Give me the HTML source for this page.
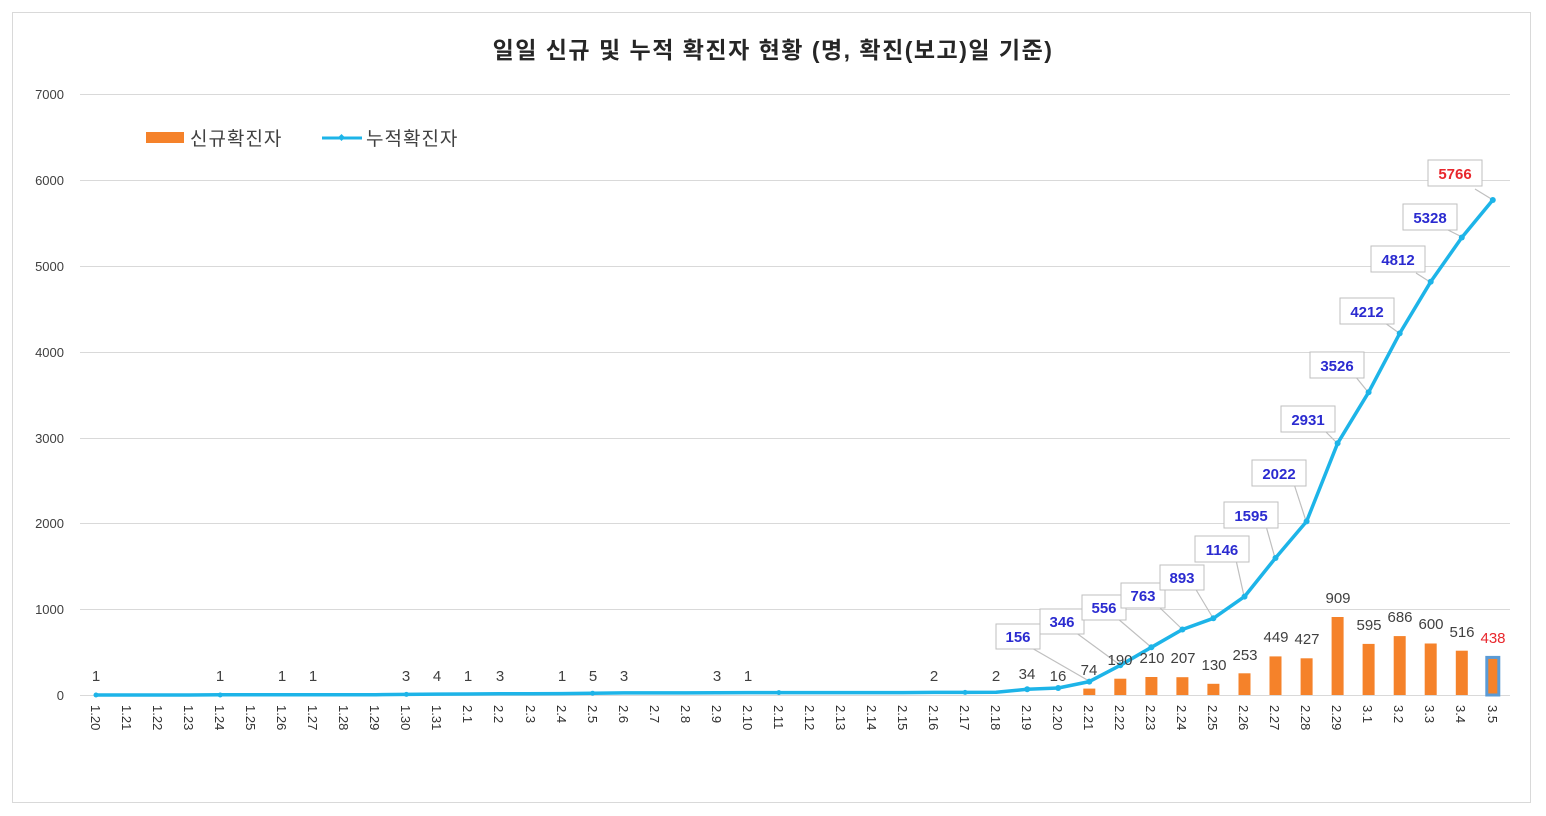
<!DOCTYPE html>
<html><head><meta charset="utf-8"><style>
body{margin:0;background:#fff}
svg{display:block;font-family:"Liberation Sans","Noto Sans CJK KR",sans-serif}
.ax{font-size:13px;fill:#404040}
.xl{font-size:13px;fill:#303030}
.sl{font-size:15px;fill:#404040;text-anchor:middle}
.bl{font-size:15px;font-weight:bold;fill:#2b2bd0;text-anchor:middle}
.bx{fill:#fff;stroke:#bfbfbf;stroke-width:1}
.co{stroke:#bfbfbf;stroke-width:1.2;fill:none}
</style></head><body>
<svg width="1546" height="816" viewBox="0 0 1546 816">
<rect x="12.5" y="12.5" width="1518" height="790" fill="#fff" stroke="#d9d9d9"/>
<text x="773" y="58" text-anchor="middle" font-size="23" font-weight="bold" fill="#262626" letter-spacing="1.5">일일 신규 및 누적 확진자 현황 (명, 확진(보고)일 기준)</text>
<g stroke="#d9d9d9" stroke-width="1">
<line x1="80" x2="1510" y1="94.5" y2="94.5"/><line x1="80" x2="1510" y1="180.5" y2="180.5"/><line x1="80" x2="1510" y1="266.5" y2="266.5"/><line x1="80" x2="1510" y1="352.5" y2="352.5"/><line x1="80" x2="1510" y1="438.5" y2="438.5"/><line x1="80" x2="1510" y1="523.5" y2="523.5"/><line x1="80" x2="1510" y1="609.5" y2="609.5"/><line x1="80" x2="1510" y1="695.5" y2="695.5"/>
</g>
<g class="ax" text-anchor="end">
<text x="64" y="99">7000</text><text x="64" y="185">6000</text><text x="64" y="271">5000</text><text x="64" y="357">4000</text><text x="64" y="443">3000</text><text x="64" y="528">2000</text><text x="64" y="614">1000</text><text x="64" y="700">0</text>
</g>
<rect x="146" y="132" width="38" height="11" fill="#f5822a"/>
<text x="190" y="145" font-size="19" fill="#404040" letter-spacing="1">신규확진자</text>
<line x1="322" x2="362" y1="138" y2="138" stroke="#1db4e8" stroke-width="3"/>
<rect x="339" y="135" width="5" height="5" fill="#1db4e8" transform="rotate(45 341.5 137.5)"/>
<text x="366" y="145" font-size="19" fill="#404040" letter-spacing="1">누적확진자</text>
<g fill="#f5822a">
<rect x="1083.3" y="688.6" width="12" height="6.4"/>
<rect x="1114.3" y="678.7" width="12" height="16.3"/>
<rect x="1145.4" y="677" width="12" height="18"/>
<rect x="1176.4" y="677.2" width="12" height="17.8"/>
<rect x="1207.4" y="683.8" width="12" height="11.2"/>
<rect x="1238.5" y="673.3" width="12" height="21.7"/>
<rect x="1269.5" y="656.4" width="12" height="38.6"/>
<rect x="1300.6" y="658.3" width="12" height="36.7"/>
<rect x="1331.6" y="617" width="12" height="78"/>
<rect x="1362.6" y="643.9" width="12" height="51.1"/>
<rect x="1393.7" y="636.1" width="12" height="58.9"/>
<rect x="1424.7" y="643.5" width="12" height="51.5"/>
<rect x="1455.8" y="650.7" width="12" height="44.3"/>
<rect x="1486.8" y="657.4" width="12" height="37.6" stroke="#5b9bd5" stroke-width="3"/>
</g>
<g class="co">
<line x1="1030" y1="647" x2="1089" y2="681"/><line x1="1075" y1="632" x2="1120" y2="665"/><line x1="1117" y1="618" x2="1151" y2="647"/><line x1="1158" y1="606" x2="1182" y2="629"/><line x1="1195" y1="588" x2="1213" y2="618"/><line x1="1236" y1="560" x2="1244" y2="596"/><line x1="1266" y1="526" x2="1275" y2="558"/><line x1="1294" y1="484" x2="1306" y2="521"/><line x1="1324" y1="430" x2="1337" y2="443"/><line x1="1355" y1="376" x2="1368" y2="392"/><line x1="1385" y1="323" x2="1399" y2="333"/><line x1="1416" y1="273" x2="1430" y2="282"/><line x1="1448" y1="230" x2="1462" y2="237"/><line x1="1475" y1="189" x2="1493" y2="200"/>
</g>
<polyline fill="none" stroke="#1db4e8" stroke-width="3.5" stroke-linejoin="round" points="96,695 127,695 158.1,695 189.1,695 220.2,694.8 251.2,694.8 282.2,694.7 313.3,694.7 344.3,694.7 375.4,694.7 406.4,694.4 437.4,694.1 468.5,694 499.5,693.7 530.6,693.7 561.6,693.6 592.6,693.2 623.7,692.9 654.7,692.9 685.8,692.9 716.8,692.7 747.8,692.6 778.9,692.6 809.9,692.6 841,692.6 872,692.6 903,692.6 934.1,692.4 965.1,692.4 996.2,692.3 1027.2,689.3 1058.2,688 1089.3,681.6 1120.3,665.3 1151.4,647.3 1182.4,629.5 1213.4,618.3 1244.5,596.6 1275.5,558 1306.6,521.4 1337.6,443.3 1368.6,392.3 1399.7,333.4 1430.7,281.8 1461.8,237.5 1492.8,200"/>
<g fill="#1db4e8">
<circle cx="1027.2" cy="689.3" r="3"/><circle cx="1058.2" cy="688" r="3"/><circle cx="1089.3" cy="681.6" r="3"/><circle cx="1120.3" cy="665.3" r="3"/><circle cx="1151.4" cy="647.3" r="3"/><circle cx="1182.4" cy="629.5" r="3"/><circle cx="1213.4" cy="618.3" r="3"/><circle cx="1244.5" cy="596.6" r="3"/><circle cx="1275.5" cy="558" r="3"/><circle cx="1306.6" cy="521.4" r="3"/><circle cx="1337.6" cy="443.3" r="3"/><circle cx="1368.6" cy="392.3" r="3"/><circle cx="1399.7" cy="333.4" r="3"/><circle cx="1430.7" cy="281.8" r="3"/><circle cx="1461.8" cy="237.5" r="3"/><circle cx="1492.8" cy="200" r="3"/>
<circle cx="96" cy="695" r="2.5"/><circle cx="220.2" cy="695" r="2.5"/><circle cx="406.4" cy="694.4" r="2.5"/><circle cx="592.6" cy="693.2" r="2.5"/><circle cx="778.9" cy="692.6" r="2.5"/><circle cx="965.1" cy="692.4" r="2.5"/>
</g>
<g>
<rect class="bx" x="996" y="624" width="44" height="25"/><text class="bl" x="1018" y="642">156</text>
<rect class="bx" x="1040" y="609" width="44" height="25"/><text class="bl" x="1062" y="627">346</text>
<rect class="bx" x="1082" y="595" width="44" height="25"/><text class="bl" x="1104" y="613">556</text>
<rect class="bx" x="1121" y="583" width="44" height="25"/><text class="bl" x="1143" y="601">763</text>
<rect class="bx" x="1160" y="565" width="44" height="25"/><text class="bl" x="1182" y="583">893</text>
<rect class="bx" x="1195" y="536" width="54" height="26"/><text class="bl" x="1222" y="555">1146</text>
<rect class="bx" x="1224" y="502" width="54" height="26"/><text class="bl" x="1251" y="521">1595</text>
<rect class="bx" x="1252" y="460" width="54" height="26"/><text class="bl" x="1279" y="479">2022</text>
<rect class="bx" x="1281" y="406" width="54" height="26"/><text class="bl" x="1308" y="425">2931</text>
<rect class="bx" x="1310" y="352" width="54" height="26"/><text class="bl" x="1337" y="371">3526</text>
<rect class="bx" x="1340" y="298" width="54" height="26"/><text class="bl" x="1367" y="317">4212</text>
<rect class="bx" x="1371" y="246" width="54" height="26"/><text class="bl" x="1398" y="265">4812</text>
<rect class="bx" x="1403" y="204" width="54" height="26"/><text class="bl" x="1430" y="223">5328</text>
<rect class="bx" x="1428" y="160" width="54" height="26"/><text class="bl" x="1455" y="179" style="fill:#e8262c">5766</text>
</g>
<g class="sl">
<text x="96" y="681">1</text><text x="220" y="681">1</text><text x="282" y="681">1</text><text x="313" y="681">1</text><text x="406" y="681">3</text><text x="437" y="681">4</text><text x="468" y="681">1</text><text x="500" y="681">3</text><text x="562" y="681">1</text><text x="593" y="681">5</text><text x="624" y="681">3</text><text x="717" y="681">3</text><text x="748" y="681">1</text><text x="934" y="681">2</text><text x="996" y="681">2</text><text x="1027" y="679">34</text><text x="1058" y="681">16</text>
<text x="1089" y="675">74</text><text x="1120" y="665">190</text><text x="1152" y="663">210</text><text x="1183" y="663">207</text><text x="1214" y="670">130</text><text x="1245" y="660">253</text><text x="1276" y="642">449</text><text x="1307" y="644">427</text><text x="1338" y="603">909</text><text x="1369" y="630">595</text><text x="1400" y="622">686</text><text x="1431" y="629">600</text><text x="1462" y="637">516</text><text x="1493" y="643" style="fill:#e8262c">438</text>
</g>
<g class="xl">
<text transform="translate(91,705) rotate(90)">1.20</text><text transform="translate(122,705) rotate(90)">1.21</text><text transform="translate(153,705) rotate(90)">1.22</text><text transform="translate(184,705) rotate(90)">1.23</text><text transform="translate(215,705) rotate(90)">1.24</text><text transform="translate(246,705) rotate(90)">1.25</text><text transform="translate(277,705) rotate(90)">1.26</text><text transform="translate(308,705) rotate(90)">1.27</text><text transform="translate(339,705) rotate(90)">1.28</text><text transform="translate(370,705) rotate(90)">1.29</text><text transform="translate(401,705) rotate(90)">1.30</text><text transform="translate(432,705) rotate(90)">1.31</text><text transform="translate(463,705) rotate(90)">2.1</text><text transform="translate(494,705) rotate(90)">2.2</text><text transform="translate(526,705) rotate(90)">2.3</text><text transform="translate(557,705) rotate(90)">2.4</text><text transform="translate(588,705) rotate(90)">2.5</text><text transform="translate(619,705) rotate(90)">2.6</text><text transform="translate(650,705) rotate(90)">2.7</text><text transform="translate(681,705) rotate(90)">2.8</text><text transform="translate(712,705) rotate(90)">2.9</text><text transform="translate(743,705) rotate(90)">2.10</text><text transform="translate(774,705) rotate(90)">2.11</text><text transform="translate(805,705) rotate(90)">2.12</text><text transform="translate(836,705) rotate(90)">2.13</text><text transform="translate(867,705) rotate(90)">2.14</text><text transform="translate(898,705) rotate(90)">2.15</text><text transform="translate(929,705) rotate(90)">2.16</text><text transform="translate(960,705) rotate(90)">2.17</text><text transform="translate(991,705) rotate(90)">2.18</text><text transform="translate(1022,705) rotate(90)">2.19</text><text transform="translate(1053,705) rotate(90)">2.20</text><text transform="translate(1084,705) rotate(90)">2.21</text><text transform="translate(1115,705) rotate(90)">2.22</text><text transform="translate(1146,705) rotate(90)">2.23</text><text transform="translate(1177,705) rotate(90)">2.24</text><text transform="translate(1208,705) rotate(90)">2.25</text><text transform="translate(1239,705) rotate(90)">2.26</text><text transform="translate(1270,705) rotate(90)">2.27</text><text transform="translate(1301,705) rotate(90)">2.28</text><text transform="translate(1332,705) rotate(90)">2.29</text><text transform="translate(1363,705) rotate(90)">3.1</text><text transform="translate(1394,705) rotate(90)">3.2</text><text transform="translate(1425,705) rotate(90)">3.3</text><text transform="translate(1456,705) rotate(90)">3.4</text><text transform="translate(1488,705) rotate(90)">3.5</text>
</g>
</svg>
</body></html>
